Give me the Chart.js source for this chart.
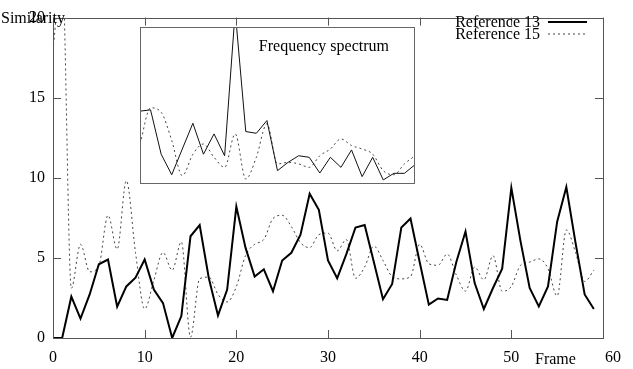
<!DOCTYPE html>
<html lang="en">
<head>
<meta charset="UTF-8" />
<title>Similarity per frame</title>
<script src="https://cdn.jsdelivr.net/npm/chart.js"></script>
<style>
  body { margin: 0; background: #fff; }
  #wrap { position: relative; width: 633px; height: 369px; }
  #main { position: absolute; left: 0; top: 0; }
  #inset { position: absolute; left: 140px; top: 27px; }
</style>
</head>
<body>
<div id="wrap">
  <canvas id="main" width="633" height="369"></canvas>
  <canvas id="inset" width="275" height="157"></canvas>
</div>
<script>
// frames on the x axis
const frames = Array.from({ length: 60 }, (_, i) => i);

// similarity for each reference
const ref13 = [0, 0, 2.58, 1.21, 2.72, 4.6, 4.9, 1.95, 3.22, 3.77,
    4.9, 3.02, 2.18, 0, 1.37, 6.35, 7.05, 3.73, 1.41, 3.02,
    8.2, 5.64, 3.83, 4.29, 2.92, 4.84, 5.32, 6.45, 9.0, 8.0,
    4.84, 3.73, 5.24, 6.9, 7.05, 4.74, 2.42, 3.37, 6.9, 7.46,
    4.74, 2.08, 2.47, 2.38, 4.74, 6.65, 3.43, 1.81, 3.12, 4.33,
    9.38, 6.05, 3.12, 1.97, 3.22, 7.26, 9.42, 5.95, 2.72, 1.81];
const ref15 = [18, 23, 3.1, 5.85, 4.13, 4.5, 7.66, 5.54, 9.82, 5.34,
    1.81, 3.6, 5.34, 4.23, 6.0, 0.05, 3.7, 3.8, 2.72, 2.25,
    3.2, 5.14, 5.85, 6.15, 7.46, 7.66, 6.96, 5.95, 5.64, 6.45,
    6.55, 5.44, 6.15, 3.73, 4.43, 5.74, 4.84, 3.83, 3.69, 3.83,
    5.85, 4.63, 4.54, 5.24, 3.93, 2.92, 4.43, 3.63, 5.14, 2.92,
    3.22, 4.54, 4.74, 4.94, 4.33, 2.62, 6.75, 5.34, 3.53, 4.23];

const xTicks = [0, 10, 20, 30, 40, 50, 60];
const yTicks = [0, 5, 10, 15, 20];

// inset: frequency spectrum (relative amplitude)
const bins = Array.from({ length: 27 }, (_, i) => i);
const spec13 = [0.464, 0.472, 0.19, 0.059, 0.223, 0.387, 0.19, 0.319, 0.18, 1.1,
    0.334, 0.323, 0.404, 0.085, 0.138, 0.18, 0.17, 0.07, 0.17, 0.106,
    0.217, 0.047, 0.17, 0.026, 0.068, 0.068, 0.123];
const spec15 = [0.255, 0.485, 0.457, 0.277, 0.053, 0.19, 0.255, 0.17, 0.106, 0.319,
    0.032, 0.17, 0.383, 0.128, 0.138, 0.128, 0.106, 0.18, 0.223, 0.287,
    0.245, 0.223, 0.19, 0.085, 0.059, 0.128, 0.18];

const FONT = "'Liberation Serif', 'DejaVu Serif', serif";

function pts(xs, ys) {
    return xs.map((x, i) => ({ x: x, y: ys[i] }));
}

// gnuplot-like frame with inward ticks, legend and labels
const framePlugin = {
    id: 'frame',
    afterDraw(chart) {
        const ctx = chart.ctx;
        const a = chart.chartArea;
        const xs = chart.scales.x, ys = chart.scales.y;
        ctx.save();
        ctx.strokeStyle = '#555';
        ctx.lineWidth = 1;
        ctx.strokeRect(Math.round(a.left) + 0.5, Math.round(a.top) + 0.5,
            Math.round(a.right - a.left), Math.round(a.bottom - a.top));
        ctx.beginPath();
        xTicks.forEach(v => {
            const px = Math.round(xs.getPixelForValue(v)) + 0.5;
            ctx.moveTo(px, a.bottom); ctx.lineTo(px, a.bottom - 8);
            ctx.moveTo(px, a.top); ctx.lineTo(px, a.top + 8);
        });
        yTicks.forEach(v => {
            const py = Math.round(ys.getPixelForValue(v)) + 0.5;
            ctx.moveTo(a.left, py); ctx.lineTo(a.left + 8, py);
            ctx.moveTo(a.right, py); ctx.lineTo(a.right - 8, py);
        });
        ctx.stroke();

        // axis labels
        ctx.fillStyle = '#000';
        ctx.font = '16px ' + FONT;
        ctx.textBaseline = 'alphabetic';
        ctx.textAlign = 'left';
        ctx.fillText('Similarity', 1, 23);
        ctx.fillText('Frame', 535, 364);

        // legend
        ctx.textAlign = 'right';
        chart.data.datasets.forEach((ds, i) => {
            const by = 26.5 + i * 12;
            ctx.fillStyle = '#000';
            ctx.fillText(ds.label, 540, by);
            ctx.beginPath();
            ctx.strokeStyle = ds.borderColor;
            ctx.lineWidth = ds.borderWidth;
            ctx.setLineDash(ds.borderDash || []);
            ctx.moveTo(548, by - 4.5);
            ctx.lineTo(587, by - 4.5);
            ctx.stroke();
        });
        ctx.restore();
    }
};

new Chart(document.getElementById('main'), {
    type: 'line',
    data: {
        datasets: [{
            label: 'Reference 13',
            data: pts(frames, ref13),
            borderColor: '#000',
            borderWidth: 2,
            pointRadius: 0,
            tension: 0
        }, {
            label: 'Reference 15',
            data: pts(frames, ref15),
            borderColor: '#444',
            borderWidth: 1,
            borderDash: [2, 3],
            pointRadius: 0,
            cubicInterpolationMode: 'monotone'
        }]
    },
    options: {
        responsive: false,
        devicePixelRatio: 1,
        animation: false,
        layout: { padding: { top: 8, right: 30, left: 0, bottom: 0 } },
        plugins: { legend: { display: false }, tooltip: { enabled: false } },
        scales: {
            x: {
                type: 'linear', min: 0, max: 60,
                afterFit: s => { s.height = 31; },
                afterBuildTicks: s => { s.ticks = xTicks.map(v => ({ value: v })); },
                grid: { display: false, drawTicks: false },
                border: { display: false },
                ticks: {
                    color: '#000', padding: 10, maxRotation: 0,
                    font: { family: FONT, size: 16 },
                    // last label sits a little right of the corner, as in the original
                    callback: v => v === 60 ? '     60' : String(v)
                }
            },
            y: {
                min: 0, max: 20,
                afterFit: s => { s.width = 53; },
                afterBuildTicks: s => { s.ticks = yTicks.map(v => ({ value: v })); },
                grid: { display: false, drawTicks: false },
                border: { display: false },
                ticks: { color: '#000', padding: 8, font: { family: FONT, size: 16 } }
            }
        }
    },
    plugins: [framePlugin]
});

const insetPlugin = {
    id: 'insetFrame',
    afterDraw(chart) {
        const ctx = chart.ctx;
        const a = chart.chartArea;
        ctx.save();
        ctx.strokeStyle = '#666';
        ctx.lineWidth = 1;
        ctx.strokeRect(0.5, 0.5, chart.width - 1, chart.height - 1);
        ctx.fillStyle = '#000';
        ctx.font = '16px ' + FONT;
        ctx.textAlign = 'right';
        ctx.fillText('Frequency spectrum', a.right - 26, a.top + 24);
        ctx.restore();
    }
};

new Chart(document.getElementById('inset'), {
    type: 'line',
    data: {
        datasets: [{
            label: 'Reference 13',
            data: pts(bins, spec13),
            borderColor: '#111',
            borderWidth: 1,
            pointRadius: 0,
            tension: 0
        }, {
            label: 'Reference 15',
            data: pts(bins, spec15),
            borderColor: '#444',
            borderWidth: 1,
            borderDash: [2, 3],
            pointRadius: 0,
            cubicInterpolationMode: 'monotone'
        }]
    },
    options: {
        responsive: false,
        devicePixelRatio: 1,
        animation: false,
        layout: { padding: 0 },
        plugins: { legend: { display: false }, tooltip: { enabled: false } },
        scales: {
            x: { type: 'linear', min: 0, max: 26, display: false },
            y: { min: 0, max: 1, display: false }
        }
    },
    plugins: [insetPlugin]
});
</script>
</body>
</html>
